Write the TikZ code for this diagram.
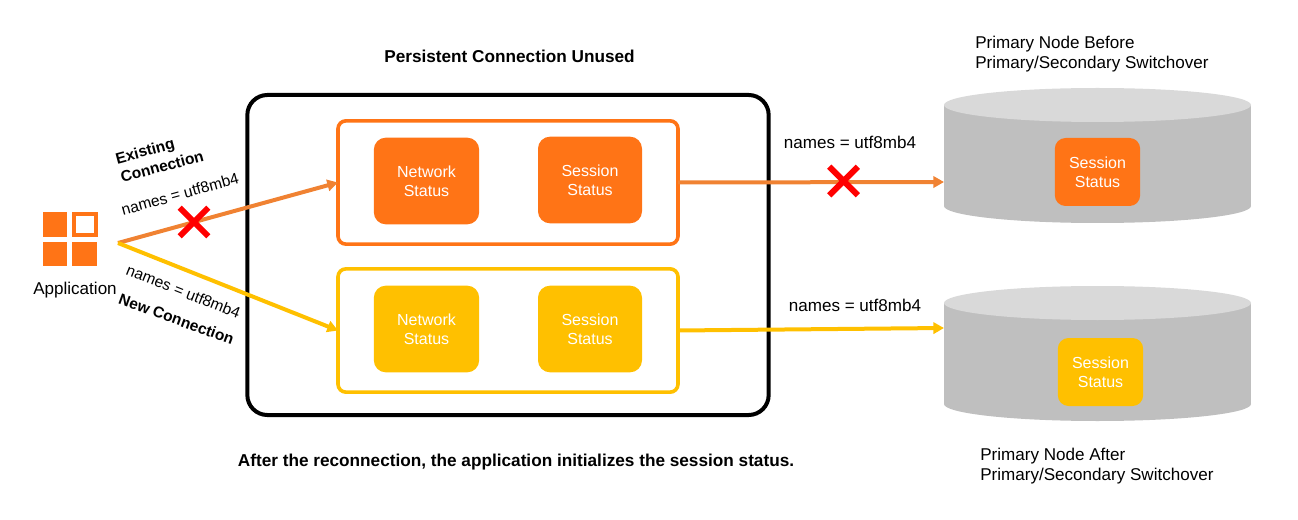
\documentclass[tikz,border=0pt]{standalone}
\usepackage{fontspec}
\setmainfont{Liberation Sans}
\usetikzlibrary{arrows.meta}
\usetikzlibrary{shapes.misc}

\definecolor{appOrange}{HTML}{FF7416}
\definecolor{linkOrange}{HTML}{F08232}
\definecolor{appYellow}{HTML}{FFC000}
\definecolor{dbSide}{HTML}{BFBFBF}
\definecolor{dbTop}{HTML}{D9D9D9}

\tikzset{
    lbl/.style={font=\fontsize{12}{14.5}\selectfont, inner sep=0pt, align=left},
    widelbl/.style={font=\fontsize{12.8}{15}\selectfont, inner sep=0pt, align=left},
    tiltlbl/.style={lbl, font=\fontsize{11.7}{14.5}\selectfont},
    boldlbl/.style={lbl, font=\fontsize{11.6}{14.5}\selectfont\bfseries},
    headlbl/.style={lbl, font=\fontsize{12.9}{15}\selectfont\bfseries},
    statusbox/.style={lbl, align=center, text=white, fill=#1, rounded corners=9pt},
    groupbox/.style={draw=#1, line width=2.7pt, rounded corners=6pt, outer sep=0pt, minimum width=255pt, minimum height=92.5pt},
    link/.style={draw=#1, line width=3pt, -{Triangle[length=8pt,width=8.5pt]}},
    redcross/.style={cross out, draw=red, line width=4.5pt, inner sep=0pt, minimum size=17pt},
}

\begin{document}
\begin{tikzpicture}[x=0.75pt, y=-0.75pt]
\useasboundingbox (0,0) rectangle (1298,520);
% Application icon
\fill[appOrange] (43,212) rectangle (67,237);
\draw[appOrange, line width=3pt] (74,214) rectangle (96,235);
\fill[appOrange] (43,242) rectangle (67,266);
\fill[appOrange] (72,242) rectangle (97,266);
\node[widelbl] (app) at (75,290) {Application};
\coordinate (appout) at (118,243);
% Outer proxy box and its two groups
\node[draw=black, line width=3pt, rounded corners=15pt, minimum width=391pt, minimum height=240pt] (proxy) at (508,255) {};
\node[groupbox=appOrange] (oldgroup) at (508,182.5) {};
\node[groupbox=appYellow] (newgroup) at (508,330.5) {};
% Status boxes
\node[statusbox=appOrange, minimum width=79pt, minimum height=65pt] (oldnet) at (426.5,181) {Network\\Status};
\node[statusbox=appOrange, minimum width=78pt, minimum height=65pt] (oldsess) at (590,180) {Session\\Status};
\node[statusbox=appYellow, minimum width=79pt, minimum height=65pt] (newnet) at (426.5,329) {Network\\Status};
\node[statusbox=appYellow, minimum width=78pt, minimum height=65pt] (newsess) at (590,329) {Session\\Status};
% Primary nodes as cylinders
\foreach \y in {105,303} {
    \fill[dbSide] (944,\y) rectangle (1251,\y+101);
    \fill[dbSide] (1097.5,\y+101) ellipse [x radius=153.5, y radius=17];
    \fill[dbTop] (1097.5,\y) ellipse [x radius=153.5, y radius=17];
}
\coordinate (olddb) at (944,182);
\coordinate (newdb) at (944,328);
\node[statusbox=appOrange, rounded corners=8pt, minimum width=64pt, minimum height=51pt] (dbold) at (1097.5,172) {Session\\Status};
\node[statusbox=appYellow, rounded corners=8pt, minimum width=64pt, minimum height=51pt] (dbnew) at (1100.5,372) {Session\\Status};
% Connections
\draw[link=linkOrange] (appout) -- (oldgroup.west);
\draw[link=appYellow] (appout) -- (newgroup.west);
\draw[link=linkOrange] (oldgroup.east) -- (olddb);
\draw[link=appYellow] (newgroup.east) -- (newdb);
% Broken connections
\node[redcross] (crossapp) at (194,222) {};
\node[redcross] (crossdb) at (843.5,181) {};
% Labels along the connections
\node[boldlbl, rotate=15] (existing) at (159.5,157) {Existing\\Connection};
\node[tiltlbl, rotate=15.4] (oldnames) at (180,194) {names = utf8mb4};
\node[tiltlbl, rotate=-21.7] (newnames) at (183.5,291.5) {names = utf8mb4};
\node[boldlbl, rotate=-20] (newconn) at (176.5,319) {New Connection};
\node[widelbl] (dboldnames) at (850,142.5) {names = utf8mb4};
\node[widelbl] (dbnewnames) at (855,305.5) {names = utf8mb4};
% Captions
\node[headlbl] (title) at (509.5,56.5) {Persistent Connection Unused};
\node[headlbl] (caption) at (516,462) {After the reconnection, the application initializes the session status.};
\node[widelbl, anchor=west] (before) at (975,54) {Primary Node Before\\Primary/Secondary Switchover};
\node[widelbl, anchor=west] (after) at (980,466) {Primary Node After\\Primary/Secondary Switchover};
\end{tikzpicture}
\end{document}
